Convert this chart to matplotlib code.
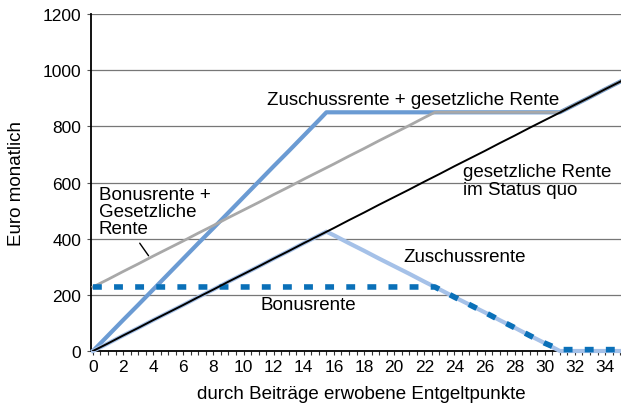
import matplotlib.pyplot as plt
import matplotlib.ticker as mticker

plt.rcParams['font.family'] = ['Liberation Sans', 'DejaVu Sans']
plt.rcParams['font.size'] = 13.5

# gesetzliche Rente im Status quo
ges_x = list(range(0, 37))
ges_y = [0, 27, 55, 82, 110, 137, 164, 192, 219, 247, 274, 301, 329, 356, 384, 411, 438, 466,
         493, 521, 548, 575, 603, 630, 658, 685, 712, 740, 767, 795, 822, 849, 877, 904, 932, 959, 986]

# Bonusrente + gesetzliche Rente
bon_ges_x = list(range(0, 23)) + [22.7, 31, 32, 33, 34, 35, 36]
bon_ges_y = [228, 255, 283, 310, 338, 365, 392, 420, 447, 475, 502, 529, 557, 584, 612, 639, 666,
             694, 721, 749, 776, 803, 831, 850, 850, 877, 904, 932, 959, 986]

# Zuschussrente + gesetzliche Rente
zus_ges_x = list(range(0, 16)) + [15.5, 31, 32, 33, 34, 35, 36]
zus_ges_y = [0, 55, 110, 164, 219, 274, 329, 384, 438, 493, 548, 603, 658, 712, 767, 822,
             850, 850, 877, 904, 932, 959, 986]

# Zuschussrente
zus_x = list(range(0, 16)) + [15.5] + list(range(16, 37))
zus_y = [0, 27, 55, 82, 110, 137, 164, 192, 219, 247, 274, 301, 329, 356, 384, 411,
         425, 412, 384, 357, 329, 302, 275, 247, 220, 192, 165, 138, 110, 83, 55, 28, 0,
         0, 0, 0, 0, 0]

# Bonusrente
bon_x = [0, 22.7, 23, 24, 25, 26, 27, 28, 29, 30, 31, 36]
bon_y = [228, 228, 220, 192, 165, 138, 110, 83, 55, 28, 5, 5]

fig = plt.figure(figsize=(6.21, 4.06), dpi=100)
ax = fig.add_axes([0.1465, 0.133, 0.8535, 0.83])

ax.plot(zus_ges_x, zus_ges_y, color='#6b9bd3', lw=3, zorder=3, solid_joinstyle='round')
ax.plot(zus_x, zus_y, color='#a5c1e8', lw=3, zorder=4, clip_on=False, solid_joinstyle='round')
ax.plot(bon_ges_x, bon_ges_y, color='#a8a8a8', lw=2, zorder=5)
ax.plot(bon_x, bon_y, color='#0a70b8', lw=4, zorder=6, dashes=(1.6, 2.2),
        dash_capstyle='butt', clip_on=False)
ax.plot(ges_x, ges_y, color='black', lw=1.4, zorder=7)

ax.text(11.55, 894, 'Zuschussrente + gesetzliche Rente', va='center', ha='left')
ax.text(24.6, 607, 'gesetzliche Rente\nim Status quo', va='center', ha='left',
        linespacing=1.05)
ax.text(0.4, 497, 'Bonusrente +\nGesetzliche\nRente', va='center', ha='left',
        linespacing=1.0)
ax.annotate('', xy=(3.8, 331), xytext=(3.0, 392),
            arrowprops=dict(arrowstyle='-', color='black', lw=1))
ax.text(20.6, 338, 'Zuschussrente', va='center', ha='left')
ax.text(11.1, 164, 'Bonusrente', va='center', ha='left')

ax.set_xlim(-0.13, 35.06)
ax.set_ylim(0, 1200)
ax.xaxis.set_major_locator(mticker.MultipleLocator(2))
ax.xaxis.set_minor_locator(mticker.MultipleLocator(0.5))
ax.yaxis.set_major_locator(mticker.MultipleLocator(200))
ax.set_xticks(range(0, 35, 2))
ax.tick_params(axis='x', which='both', direction='out', length=3, width=0.8, colors='#333333',
               labelcolor='black', labelsize=12.5)
ax.tick_params(axis='y', direction='out', length=3, width=0.8, color='#555555',
               labelsize=12.5, pad=4)
for t in ax.xaxis.get_major_ticks():
    if t.get_loc() >= 10:
        t.set_pad(5)
    else:
        t.set_pad(2.5)

ax.grid(axis='y', color='#777777', lw=0.9)
ax.set_axisbelow(True)
for s in ['top', 'right']:
    ax.spines[s].set_visible(False)
ax.spines['left'].set_linewidth(1.3)
ax.spines['bottom'].set_linewidth(1.3)

ax.set_xlabel('durch Beiträge erwobene Entgeltpunkte')
ax.xaxis.set_label_coords(0.51, -0.1)
ax.set_ylabel('Euro monatlich')
ax.yaxis.set_label_coords(-0.125, 0.5)

fig.savefig('out.png', dpi=100)
